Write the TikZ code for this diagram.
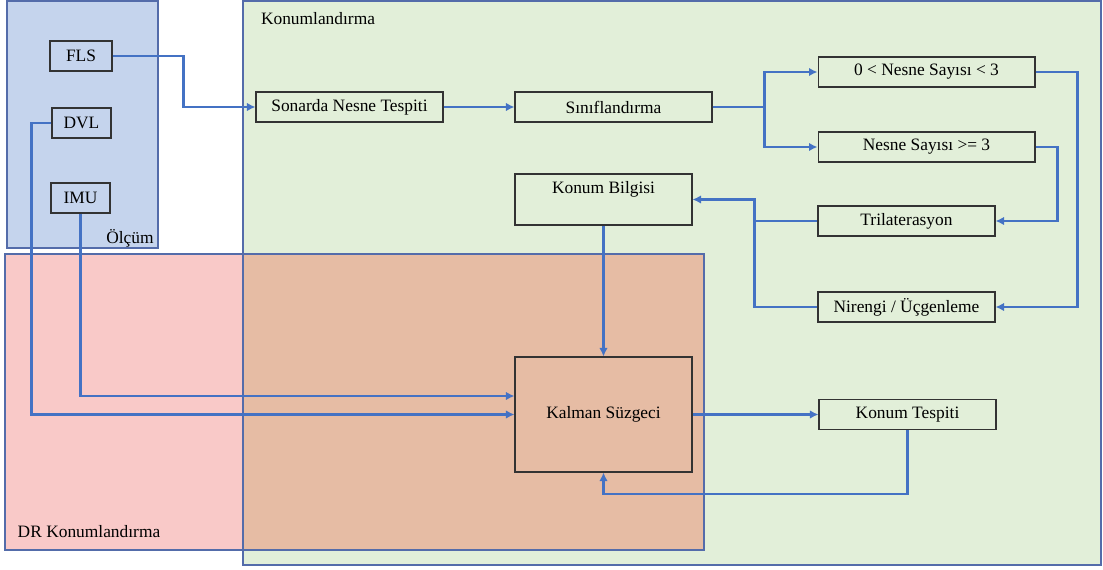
\documentclass[tikz,border=0pt]{standalone}
\usepackage{fontspec}
\setmainfont{Liberation Serif}
\usetikzlibrary{arrows.meta}
\definecolor{olcum}{RGB}{197,212,237}
\definecolor{yesil}{RGB}{226,239,217}
\definecolor{pembe}{RGB}{249,201,200}
\definecolor{kesisim}{RGB}{230,188,164}
\definecolor{cerceve}{RGB}{84,108,170}
\definecolor{okmavi}{RGB}{68,114,196}
\tikzset{kutu/.style={draw=black!80, line width=0.6pt, inner sep=0pt, minimum height=0.6cm}}
\tikzset{ok/.style={draw=okmavi, line width=1.6pt, -{Latex[length=1.7mm,width=1.7mm]}}}
\tikzset{hat/.style={draw=okmavi, line width=1.6pt}}

\begin{document}
\begin{tikzpicture}[x=0.02cm, y=-0.02cm, font=\fontsize{9.9}{12}\selectfont]
    \useasboundingbox (0,0) rectangle (1103,569);

    % bolgeler
    \fill[yesil] (243,1) rectangle (1101,565);
    \fill[olcum] (7,1) rectangle (158,248);
    \fill[pembe] (5,254) rectangle (704,550);
    \fill[kesisim] (243,254) rectangle (704,550);
    \draw[cerceve, line width=0.6pt] (243,1) rectangle (1101,565);
    \draw[cerceve, line width=0.6pt] (7,1) rectangle (158,248);
    \draw[cerceve, line width=0.6pt] (5,254) rectangle (704,550);
    \node (L1) at (130,238) {Ölçüm};
    \node (L2) at (318,19) {Konumlandırma};
    \node (L3) at (89,532) {DR Konumlandırma};

    % kutular
    \node[kutu, minimum width=1.24cm] (F) at (81,56) {FLS};
    \node[kutu, minimum width=1.18cm] (D) at (81.5,123) {DVL};
    \node[kutu, minimum width=1.18cm] (I) at (80.5,198) {IMU};
    \node[kutu, minimum width=3.74cm] (S) at (349.5,107) {Sonarda Nesne Tespiti};
    \node[kutu, minimum width=3.94cm] (C) at (613.5,107) {Sınıflandırma};
    \node[kutu, minimum width=4.34cm] (N1) at (926.5,72) {0 < Nesne Sayısı < 3};
    \node[kutu, minimum width=4.34cm] (N2) at (926.5,147) {Nesne Sayısı >= 3};
    \node[kutu, minimum width=3.54cm, minimum height=1.02cm,
          label={[anchor=north, yshift=-1pt]north:Konum Bilgisi}] (KB) at (603.5,199.5) {};
    \node[kutu, minimum width=3.54cm] (T) at (906.5,221) {Trilaterasyon};
    \node[kutu, minimum width=3.54cm] (U) at (906.5,307) {Nirengi / Üçgenleme};
    \node[kutu, minimum width=3.54cm, minimum height=2.3cm] (K) at (603.5,414.5) {Kalman Süzgeci};
    \node[kutu, minimum width=3.54cm] (KT) at (907.5,414.5) {Konum Tespiti};

    % baglantilar
    \draw[ok] (F.east) -- ++(71,0) |- (S.west);
    \draw[ok] (S) -- (C);
    \draw[ok] (C.east) -- ++(52,0) |- (N1.west);
    \draw[ok] (C.east) -- ++(52,0) |- (N2.west);
    \draw[ok] (N1.east) -- ++(42,0) |- (U.east);
    \draw[ok] (N2.east) -- ++(22,0) |- (T.east);
    \draw[ok] (U.west) -- ++(-63,0) |- (KB.east);
    \draw[hat] (T.west) -- ++(-63,0);
    \draw[ok] (KB) -- (K);
    \draw[ok] (I.south) |- ([yshift=0.37cm]K.west);
    \draw[ok] (D.west) -- ++(-20,0) |- (K.west);
    \draw[ok] (K) -- (KT);
    \draw[ok] (KT.south) -- ++(0,64) -| (K.south);

\end{tikzpicture}
\end{document}
